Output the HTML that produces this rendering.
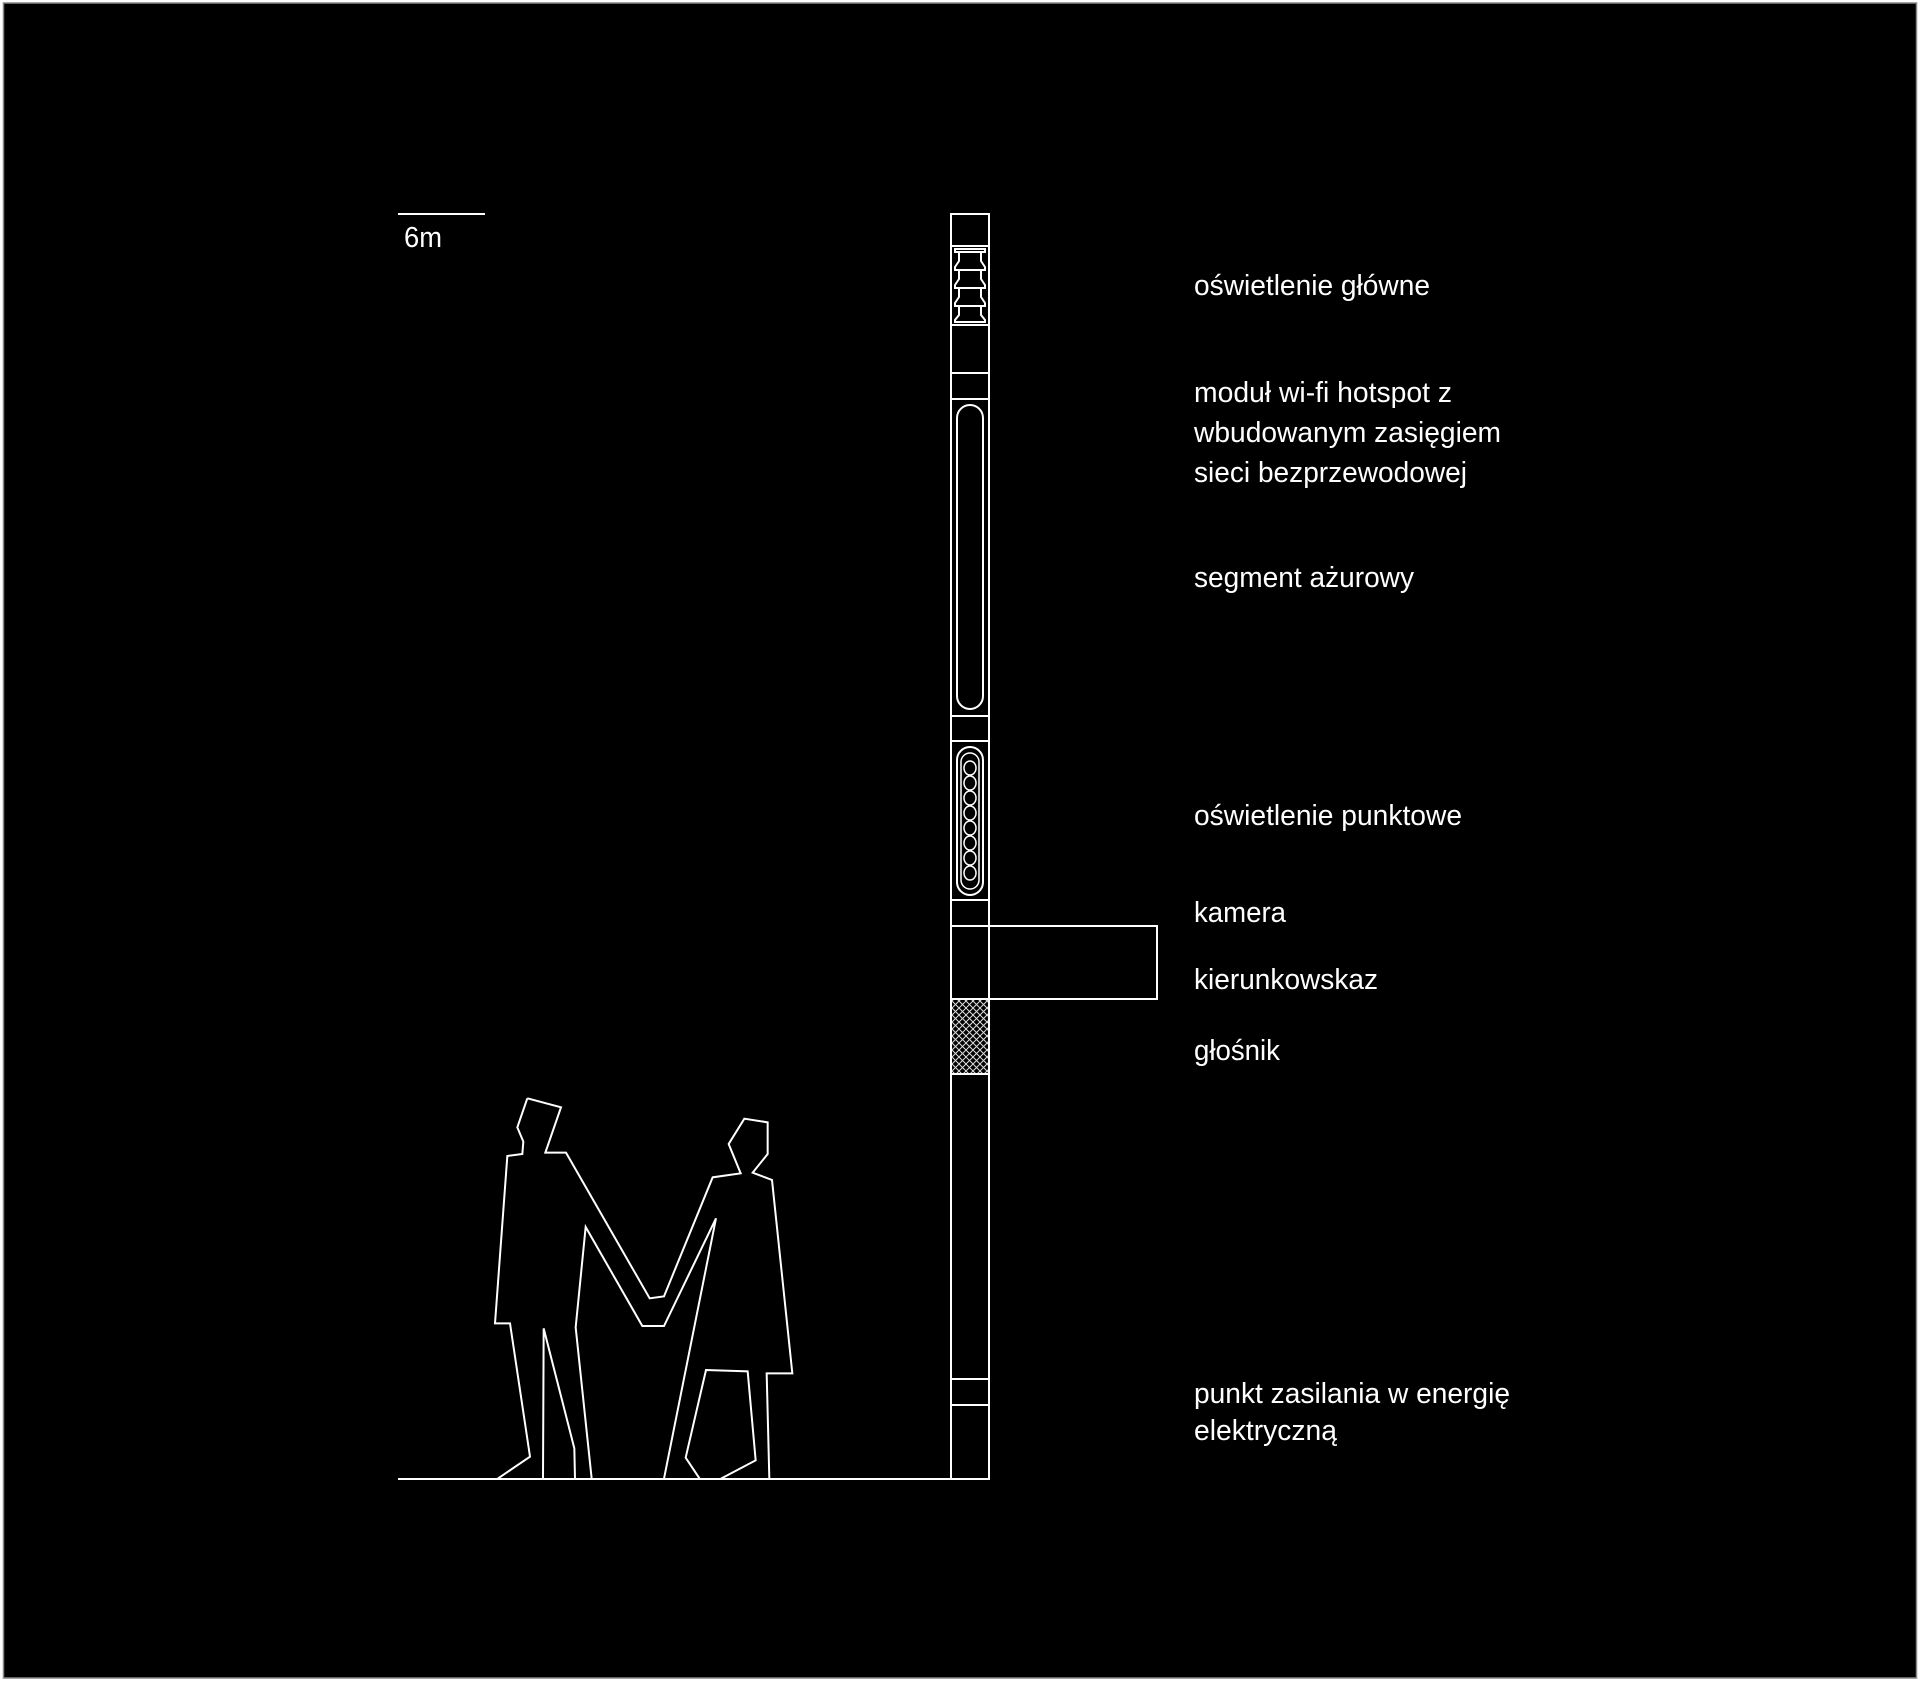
<!DOCTYPE html>
<html><head><meta charset="utf-8"><style>
html,body{margin:0;padding:0;background:#fff;width:1920px;height:1682px;overflow:hidden}
svg{display:block}
text{font-family:"Liberation Sans Narrow","Liberation Sans",sans-serif;fill:#fff;font-size:29px}
</style></head><body>
<svg width="1920" height="1682" viewBox="0 0 1920 1682" xmlns="http://www.w3.org/2000/svg">
<defs>
<pattern id="hx" width="7" height="7" patternUnits="userSpaceOnUse">
<path d="M0,0 L7,7 M7,0 L0,7" stroke="#ddd" stroke-width="1"/>
</pattern>
</defs>
<rect x="3.5" y="3" width="1913" height="1675" fill="#000" stroke="#888" stroke-width="1.5"/>
<g stroke="#fff" stroke-width="2" fill="none">
<line x1="398" y1="214" x2="485" y2="214"/>
<line x1="398" y1="1479" x2="989" y2="1479"/>
<rect x="951" y="214" width="38" height="1265"/>
<line x1="951" y1="246" x2="989" y2="246"/>
<line x1="951" y1="325" x2="989" y2="325"/>
<line x1="951" y1="373" x2="989" y2="373"/>
<line x1="951" y1="399" x2="989" y2="399"/>
<line x1="951" y1="716" x2="989" y2="716"/>
<line x1="951" y1="741" x2="989" y2="741"/>
<line x1="951" y1="900" x2="989" y2="900"/>
<line x1="951" y1="926" x2="989" y2="926"/>
<line x1="951" y1="999" x2="989" y2="999"/>
<line x1="951" y1="1074" x2="989" y2="1074"/>
<line x1="951" y1="1379" x2="989" y2="1379"/>
<line x1="951" y1="1405" x2="989" y2="1405"/>
<!-- lamp -->
<rect x="955" y="249" width="30" height="3"/>
<path d="M959,252 L959,261 L955,267 L955,270 L985,270 L985,267 L981,261 L981,252"/>
<path d="M959,270 L959,279 L955,285 L955,288 L985,288 L985,285 L981,279 L981,270"/>
<path d="M959,288 L959,297 L955,303 L955,306 L985,306 L985,303 L981,297 L981,288"/>
<path d="M959,306 L959,315 L955,320 L955,322 L985,322 L985,320 L981,315 L981,306"/>
<!-- wifi oval -->
<rect x="957" y="405" width="26" height="304" rx="13"/>
<!-- spot -->
<rect x="957" y="747" width="26" height="148" rx="13"/>
<rect x="961" y="753" width="18" height="136" rx="9" stroke-width="1.5"/>
<g stroke-width="1.5">
<ellipse cx="970" cy="768" rx="6" ry="7"/><ellipse cx="970" cy="783" rx="6" ry="7"/><ellipse cx="970" cy="798" rx="6" ry="7"/><ellipse cx="970" cy="813" rx="6" ry="7"/>
<ellipse cx="970" cy="828" rx="6" ry="7"/><ellipse cx="970" cy="843" rx="6" ry="7"/><ellipse cx="970" cy="858" rx="6" ry="7"/><ellipse cx="970" cy="873" rx="6" ry="7"/>
</g>
<rect x="989" y="926" width="168" height="73"/>
<rect x="952" y="1000" width="36" height="73" fill="url(#hx)" stroke="none"/>
<g transform="translate(390,1080) scale(0.33333)" stroke-width="6" stroke-linejoin="miter">
<path d="M412,55 L513,82 L466,218 L528,218 L779,655 L822,649 L968,292 L1052,280 L1016,192 L1063,116 L1133,127 L1133,222 L1088,278 L1146,300 L1207,880 L1130,880 L1138,1196 M993,1196 L1097,1141 L1073,874 L948,870 L887,1133 L929,1196 M822,1196 L978,415 L822,738 L757,738 L587,441 L557,742 L605,1196 M555,1196 L553,1105 L461,745 L459,1196 M323,1196 L420,1130 L360,730 L315,730 L352,228 L397,222 L400,185 L382,142 L412,55"/>
</g>
</g>
<text x="404" y="247" textLength="38" lengthAdjust="spacingAndGlyphs" font-size="33">6m</text>
<text x="1194" y="295" textLength="236" lengthAdjust="spacingAndGlyphs">oświetlenie główne</text>
<text x="1194" y="402" textLength="258" lengthAdjust="spacingAndGlyphs">moduł wi-fi hotspot z</text>
<text x="1194" y="442" textLength="307" lengthAdjust="spacingAndGlyphs">wbudowanym zasięgiem</text>
<text x="1194" y="482" textLength="273" lengthAdjust="spacingAndGlyphs">sieci bezprzewodowej</text>
<text x="1194" y="587" textLength="220" lengthAdjust="spacingAndGlyphs">segment ażurowy</text>
<text x="1194" y="825" textLength="268" lengthAdjust="spacingAndGlyphs">oświetlenie punktowe</text>
<text x="1194" y="922" textLength="92" lengthAdjust="spacingAndGlyphs">kamera</text>
<text x="1194" y="989" textLength="184" lengthAdjust="spacingAndGlyphs">kierunkowskaz</text>
<text x="1194" y="1060" textLength="86" lengthAdjust="spacingAndGlyphs">głośnik</text>
<text x="1194" y="1403" textLength="316" lengthAdjust="spacingAndGlyphs">punkt zasilania w energię</text>
<text x="1194" y="1440" textLength="143" lengthAdjust="spacingAndGlyphs">elektryczną</text>
</svg>
</body></html>
